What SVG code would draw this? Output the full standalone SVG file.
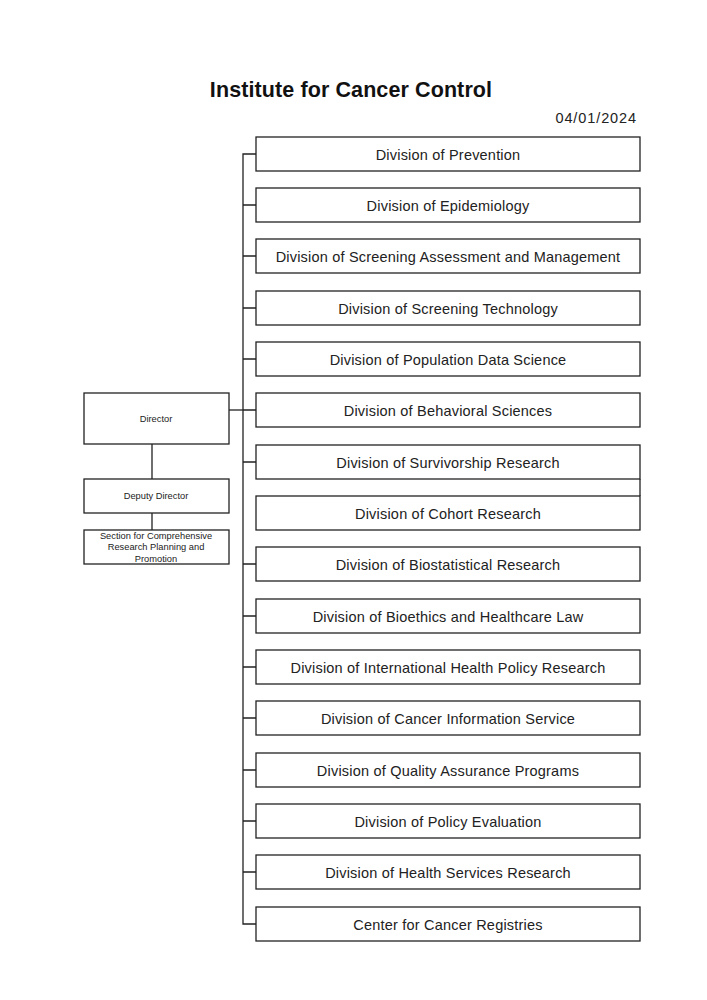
<svg xmlns="http://www.w3.org/2000/svg" width="707" height="1000" viewBox="0 0 707 1000">
<style>
.box{fill:#fff;stroke:#222;stroke-width:1.3}
.ln{fill:none;stroke:#222;stroke-width:1.3}
.t{font-family:"Liberation Sans",Arial,sans-serif;font-size:14.5px;letter-spacing:0.2px;fill:#222;text-anchor:middle}
.s{font-family:"Liberation Sans",Arial,sans-serif;font-size:9.3px;fill:#222;text-anchor:middle}
</style>
<rect width="707" height="1000" fill="#fff"/>
<text x="351" y="97" font-family="Liberation Sans,Arial,sans-serif" font-size="21.5" letter-spacing="0.1" font-weight="bold" text-anchor="middle" fill="#111">Institute for Cancer Control</text>
<text x="637" y="123" font-family="Liberation Sans,Arial,sans-serif" font-size="14.5" letter-spacing="0.9" text-anchor="end" fill="#222">04/01/2024</text>
<g id="connectors">
<path class="ln" d="M256,154 H243 V924 H256"/>
<path class="ln" d="M243,205 H256 M243,256 H256 M243,308 H256 M243,359 H256 M243,410 H256 M243,462 H256 M243,564 H256 M243,616 H256 M243,667 H256 M243,718 H256 M243,770 H256 M243,821 H256 M243,872 H256"/>
<path class="ln" d="M229,410 H243"/>
<path class="ln" d="M640,479 V496"/>
<path class="ln" d="M152,444 V479 M152,513 V530"/>
</g>
<g id="director"><rect class="box" x="84" y="393" width="145" height="51"/><text class="s" x="156" y="422">Director</text></g>
<g id="deputy"><rect class="box" x="84" y="479" width="145" height="34"/><text class="s" x="156" y="499">Deputy Director</text></g>
<g id="section"><rect class="box" x="84" y="530" width="145" height="34"/><text class="s" x="156" y="539">Section for Comprehensive</text><text class="s" x="156" y="550">Research Planning and</text><text class="s" x="156" y="561.5">Promotion</text></g>
<g id="d1"><rect class="box" x="256" y="137" width="384" height="34"/><text class="t" x="448" y="159.5">Division of Prevention</text></g>
<g id="d2"><rect class="box" x="256" y="188" width="384" height="34"/><text class="t" x="448" y="210.5">Division of Epidemiology</text></g>
<g id="d3"><rect class="box" x="256" y="239" width="384" height="34"/><text class="t" x="448" y="261.5">Division of Screening Assessment and Management</text></g>
<g id="d4"><rect class="box" x="256" y="291" width="384" height="34"/><text class="t" x="448" y="313.5">Division of Screening Technology</text></g>
<g id="d5"><rect class="box" x="256" y="342" width="384" height="34"/><text class="t" x="448" y="364.5">Division of Population Data Science</text></g>
<g id="d6"><rect class="box" x="256" y="393" width="384" height="34"/><text class="t" x="448" y="415.5">Division of Behavioral Sciences</text></g>
<g id="d7"><rect class="box" x="256" y="445" width="384" height="34"/><text class="t" x="448" y="467.5">Division of Survivorship Research</text></g>
<g id="d8"><rect class="box" x="256" y="496" width="384" height="34"/><text class="t" x="448" y="518.5">Division of Cohort Research</text></g>
<g id="d9"><rect class="box" x="256" y="547" width="384" height="34"/><text class="t" x="448" y="569.5">Division of Biostatistical Research</text></g>
<g id="d10"><rect class="box" x="256" y="599" width="384" height="34"/><text class="t" x="448" y="621.5">Division of Bioethics and Healthcare Law</text></g>
<g id="d11"><rect class="box" x="256" y="650" width="384" height="34"/><text class="t" x="448" y="672.5">Division of International Health Policy Research</text></g>
<g id="d12"><rect class="box" x="256" y="701" width="384" height="34"/><text class="t" x="448" y="723.5">Division of Cancer Information Service</text></g>
<g id="d13"><rect class="box" x="256" y="753" width="384" height="34"/><text class="t" x="448" y="775.5">Division of Quality Assurance Programs</text></g>
<g id="d14"><rect class="box" x="256" y="804" width="384" height="34"/><text class="t" x="448" y="826.5">Division of Policy Evaluation</text></g>
<g id="d15"><rect class="box" x="256" y="855" width="384" height="34"/><text class="t" x="448" y="877.5">Division of Health Services Research</text></g>
<g id="d16"><rect class="box" x="256" y="907" width="384" height="34"/><text class="t" x="448" y="929.5">Center for Cancer Registries</text></g>
</svg>
